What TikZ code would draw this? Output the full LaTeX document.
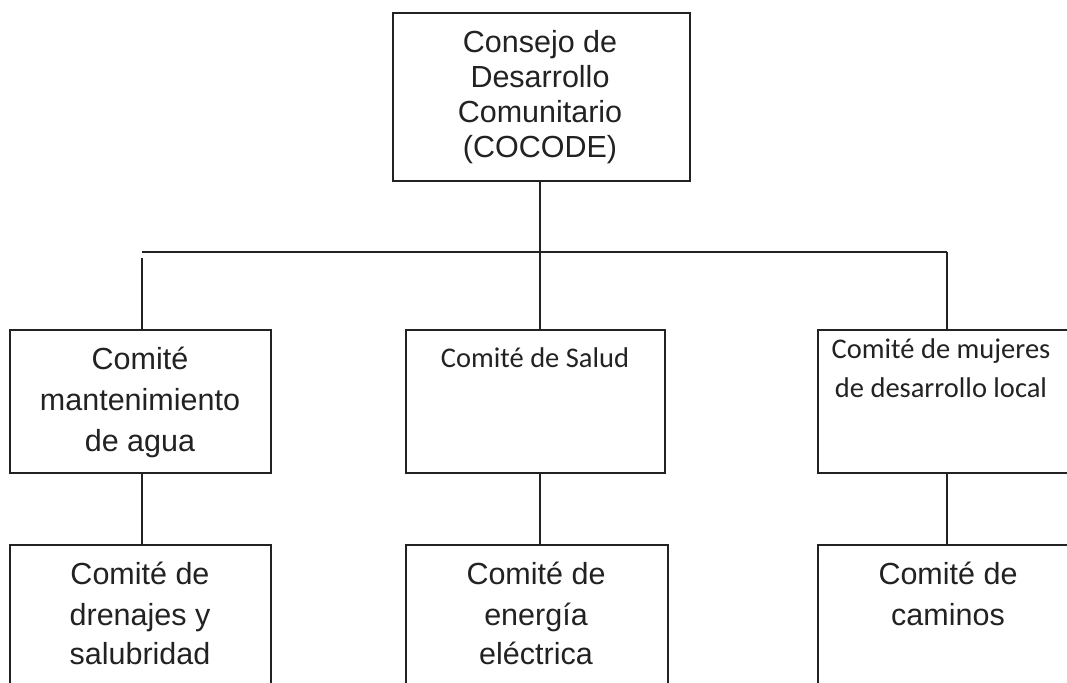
\documentclass[tikz,border=0pt]{standalone}
\usepackage{fontspec}
\setmainfont{Liberation Sans}
\newfontfamily\calfont{Carlito}
\definecolor{linec}{HTML}{222222}
\definecolor{txtc}{HTML}{222222}
\begin{document}
\begin{tikzpicture}[x=1pt,y=-1pt,
  orgbox/.style={draw=linec, line width=1.8pt, rectangle, inner sep=0pt, anchor=north west},
  conn/.style={draw=linec, line width=1.8pt},
  arl/.style={anchor=base, inner sep=0pt, text=txtc, font=\fontsize{30.5}{36}\selectfont},
  cal/.style={anchor=base, inner sep=0pt, text=txtc, font=\calfont\fontsize{28.5}{34}\selectfont}]
\useasboundingbox (0,0) rectangle (1067,682);
\clip (0,0) rectangle (1067,682);
\fill[white] (0,0) rectangle (1067,682);
% boxes
\node[orgbox, minimum width=297pt, minimum height=168pt] (top) at (392,12) {};
\node[orgbox, minimum width=261pt, minimum height=143pt] (L) at (9,329) {};
\node[orgbox, minimum width=259pt, minimum height=143pt] (M) at (405,329) {};
\node[orgbox, minimum width=260pt, minimum height=143pt] (R) at (817,329) {};
\node[orgbox, minimum width=261pt, minimum height=180pt] (BL) at (9,544) {};
\node[orgbox, minimum width=262pt, minimum height=180pt] (BM) at (405,544) {};
\node[orgbox, minimum width=260pt, minimum height=180pt] (BR) at (817,544) {};
% bar
\coordinate (barL) at (142,252);
\coordinate (barR) at (947,252);
\coordinate (midx) at (540,252);
\draw[conn] (barL) -- (barR);
\draw[conn] (top.south -| midx) -- (midx |- M.north);
\draw[conn, shorten <=6pt] (barL) -- (barL |- L.north);
\draw[conn] (barR) -- (barR |- R.north);
\draw[conn] (barL |- L.south) -- (barL |- BL.north);
\draw[conn] (midx |- M.south) -- (midx |- BM.north);
\draw[conn] (barR |- R.south) -- (barR |- BR.north);
% texts
\node[arl] (t1) at (540,53) {Consejo de};
\node[arl] (t2) at (540,88) {Desarrollo};
\node[arl] (t3) at (540,123) {Comunitario};
\node[arl] (t4) at (540,157.5) {(COCODE)};
\node[arl] (l1) at (140,369) {Comité};
\node[arl] (l2) at (140,410) {mantenimiento};
\node[arl] (l3) at (140,451) {de agua};
\node[cal] (m1) at (535,367) {Comité de Salud};
\node[cal] (r1) at (941,358) {Comité de mujeres};
\node[cal] (r2) at (941,397) {de desarrollo local};
\node[arl] (bl1) at (140,584) {Comité de};
\node[arl] (bl2) at (140,625) {drenajes y};
\node[arl] (bl3) at (140,664) {salubridad};
\node[arl] (bm1) at (536,584) {Comité de};
\node[arl] (bm2) at (536,625) {energía};
\node[arl] (bm3) at (536,664) {eléctrica};
\node[arl] (br1) at (948,584) {Comité de};
\node[arl] (br2) at (948,625) {caminos};
\end{tikzpicture}
\end{document}
